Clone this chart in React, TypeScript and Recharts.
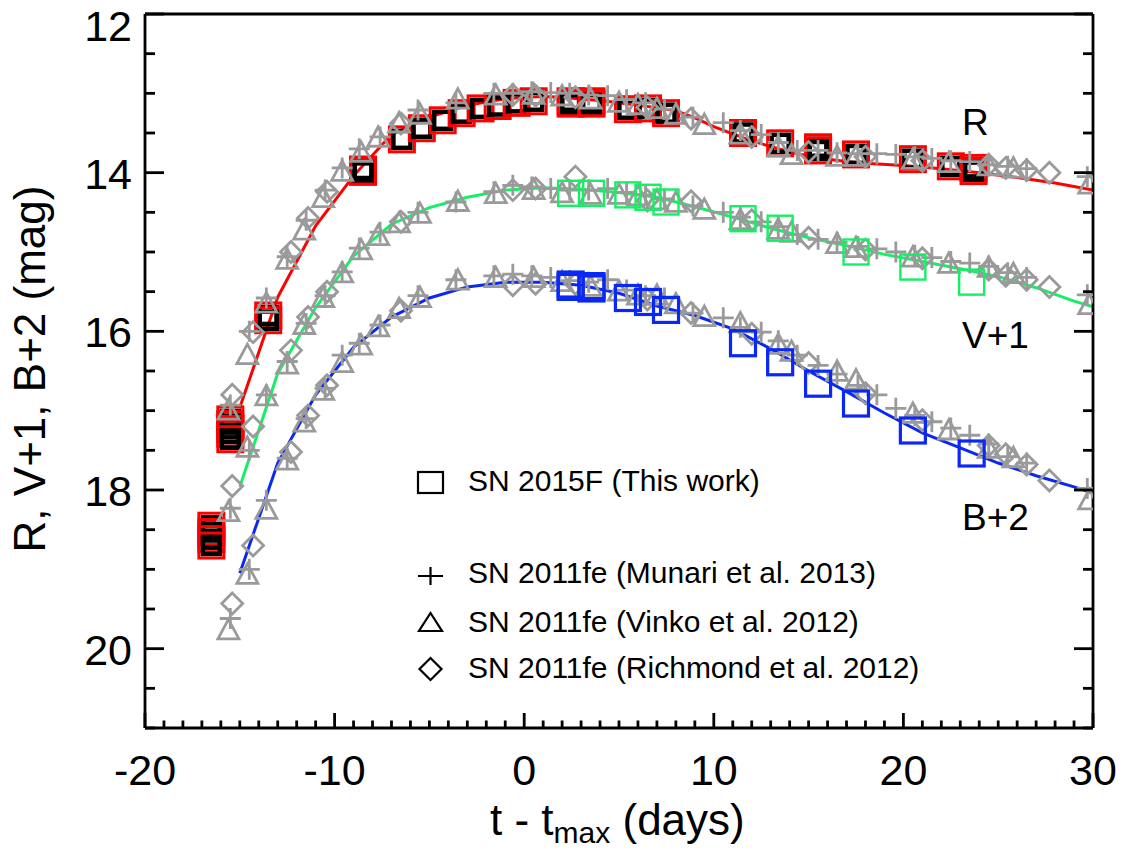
import React from 'react';
import { ComposedChart, Scatter, Line, XAxis, YAxis } from 'recharts';

const FONT = '"Liberation Sans", Arial, Helvetica, sans-serif';
const GRAY = '#9a9a9a';
const RED = '#ff0000';
const GREEN = '#14f064';
const BLUE = '#0a28f5';

// ---- SN 2015F (this work) ----
const sn15R_t = [-16.5, -16.5, -16.5, -16.5, -15.5, -15.5, -15.5, -15.5, -15.5, -13.5, -13.5, -8.5, -8.5, -6.45, -5.4, -4.3, -3.3, -2.3, -1.4, -0.4, 0.5, 2.45, 2.45, 3.55, 3.55, 5.47, 6.53, 7.48, 11.54, 13.5, 15.5, 15.5, 17.5, 20.5, 22.5, 23.7, 23.7];
const sn15R_m = [18.45, 18.53, 18.62, 18.7, 17.11, 17.17, 17.23, 17.29, 17.36, 15.8, 15.86, 13.96, 13.99, 13.58, 13.44, 13.34, 13.25, 13.19, 13.16, 13.12, 13.1, 13.1, 13.13, 13.1, 13.13, 13.2, 13.19, 13.25, 13.5, 13.63, 13.68, 13.72, 13.77, 13.83, 13.92, 13.94, 13.98];
const sn15V_t = [2.45, 3.55, 5.47, 6.53, 7.48, 11.54, 13.5, 17.5, 20.5, 23.6];
const sn15V_m = [14.26, 14.26, 14.28, 14.31, 14.37, 14.58, 14.7, 15.0, 15.19, 15.38];
const sn15B_t = [2.45, 2.45, 3.55, 3.55, 5.47, 6.53, 7.48, 11.54, 13.5, 15.5, 17.5, 20.5, 23.6];
const sn15B_m = [15.41, 15.44, 15.43, 15.46, 15.58, 15.63, 15.73, 16.15, 16.39, 16.66, 16.91, 17.25, 17.54];

// ---- template curves ----
const lineR_t = [-15, -13, -11, -9, -7, -5, -3, -1, 0, 1, 2, 3, 4, 5, 6, 7, 8, 9, 10, 11, 12, 13, 14, 15, 16, 17, 18, 20, 22, 24, 26, 28, 30];
const lineR_m = [16.96, 15.57, 14.67, 14.04, 13.52, 13.3, 13.15, 13.07, 13.05, 13.04, 13.05, 13.07, 13.09, 13.12, 13.15, 13.18, 13.22, 13.31, 13.42, 13.51, 13.6, 13.67, 13.74, 13.79, 13.83, 13.86, 13.88, 13.91, 13.95, 14.0, 14.06, 14.13, 14.22];
const lineVB_t = [-15, -13, -11, -9, -7, -5, -3, -1, 1, 3, 5, 7, 9, 11, 13, 15, 17, 19, 21, 23, 25, 27, 29, 30];
const lineV_m = [17.96, 16.53, 15.7, 15.05, 14.65, 14.44, 14.31, 14.22, 14.19, 14.21, 14.25, 14.31, 14.43, 14.56, 14.7, 14.82, 14.92, 15.03, 15.12, 15.21, 15.31, 15.45, 15.62, 15.69];
const lineB_m = [19.05, 17.66, 16.8, 16.2, 15.82, 15.58, 15.44, 15.38, 15.38, 15.42, 15.52, 15.68, 15.8, 15.97, 16.22, 16.5, 16.76, 17.03, 17.28, 17.47, 17.66, 17.82, 17.96, 18.04];

// ---- SN 2011fe, Munari et al. 2013 (plus) ----
const munari_t = [-15.5, -14.5, -13.6, -12.5, -11.5, -10.5, -9.6, -8.7, -7.6, -5.6, -3.6, -1.6, -0.6, 0.4, 1.4, 2.4, 3.4, 4.4, 5.4, 6.4, 7.4, 8.9, 10.5, 11.4, 12.5, 13.4, 14.4, 15.5, 16.5, 17.6, 18.6, 19.6, 20.6, 21.5, 22.5, 23.5, 24.5, 25.5, 26.5, 29.7];
const munari_R = [16.93, 16.0, 15.58, 15.06, 14.6, 14.22, 13.94, 13.7, 13.55, 13.21, 13.12, 13.0, 13.0, 12.98, 12.99, 13.0, 13.02, 13.03, 13.08, 13.12, 13.2, 13.3, 13.37, 13.47, 13.52, 13.62, 13.72, 13.72, 13.75, 13.76, 13.76, 13.77, 13.8, 13.82, 13.85, 13.86, 13.9, 13.92, 13.95, 14.05];
const munari_V = [18.23, 17.5, 16.8, 16.38, 15.9, 15.55, 15.25, 14.95, 14.75, 14.5, 14.37, 14.24, 14.16, 14.18, 14.2, 14.22, 14.22, 14.2, 14.25, 14.28, 14.33, 14.42, 14.5, 14.56, 14.62, 14.68, 14.78, 14.84, 14.88, 14.93, 14.96, 15.0, 15.04, 15.07, 15.12, 15.14, 15.18, 15.26, 15.32, 15.54];
const munari_B = [19.62, 19.0, 18.13, 17.6, 17.1, 16.72, 16.3, 16.15, 15.92, 15.55, 15.35, 15.3, 15.28, 15.3, 15.32, 15.36, 15.38, 15.35, 15.48, 15.55, 15.58, 15.77, 15.83, 15.95, 16.01, 16.12, 16.3, 16.43, 16.54, 16.68, 16.8, 16.97, 17.06, 17.14, 17.22, 17.31, 17.42, 17.58, 17.66, 17.98];

// ---- SN 2011fe, Vinko et al. 2012 (triangle) ----
const vinko_t = [-15.6, -14.6, -13.6, -12.5, -11.6, -10.6, -9.6, -8.6, -7.7, -6.6, -5.5, -3.5, -1.5, 0.5, 2.0, 3.5, 5.0, 6.0, 7.0, 8.0, 9.5, 11.4, 13.4, 14.1, 16.5, 17.5, 20.5, 22.4, 24.5, 25.8, 29.8];
const vinko_R = [17.0, 16.3, 15.65, 15.1, 14.73, 14.32, 13.99, 13.75, 13.56, 13.38, 13.27, 13.08, 13.03, 13.02, 13.04, 13.08, 13.12, 13.15, 13.2, 13.27, 13.4, 13.52, 13.68, 13.78, 13.8, 13.8, 13.84, 13.88, 13.92, 13.95, 14.15];
const vinko_V = [18.28, 17.47, 16.82, 16.42, 15.92, 15.58, 15.27, 14.98, 14.8, 14.64, 14.52, 14.37, 14.27, 14.22, 14.26, 14.28, 14.28, 14.3, 14.35, 14.38, 14.47, 14.6, 14.72, 14.76, 14.9, 14.95, 15.07, 15.15, 15.2, 15.28, 15.67];
const vinko_B = [19.77, 19.07, 18.25, 17.63, 17.15, 16.75, 16.4, 16.18, 15.95, 15.72, 15.58, 15.36, 15.33, 15.33, 15.38, 15.44, 15.5, 15.55, 15.55, 15.66, 15.82, 15.9, 16.17, 16.26, 16.51, 16.62, 17.04, 17.25, 17.48, 17.6, 18.13];

// ---- SN 2011fe, Richmond et al. 2012 (diamond) ----
const richmond_t = [-15.4, -14.3, -12.3, -11.4, -10.4, -6.5, -0.6, 0.6, 2.7, 6.5, 8.8, 12.0, 15.0, 18.0, 21.0, 24.5, 25.4, 26.5, 27.7];
const richmond_R = [16.8, 16.01, 15.0, 14.57, 14.24, 13.38, 13.02, 13.03, 13.05, 13.18, 13.32, 13.55, 13.74, 13.8, 13.85, 13.9, 13.94, 13.97, 14.0];
const richmond_V = [17.95, 17.2, 16.24, 15.82, 15.5, 14.62, 14.22, 14.2, 14.05, 14.35, 14.36, 14.6, 14.82, 14.97, 15.08, 15.22, 15.3, 15.35, 15.44];
const richmond_B = [19.43, 18.7, 17.52, 17.06, 16.68, 15.74, 15.42, 15.4, 15.4, 15.6, 15.77, 16.03, 16.4, 16.78, 17.12, 17.44, 17.55, 17.68, 17.88];

// ---- axes ----
const xMajorTicks = [-20, -10, 0, 10, 20, 30];
const yMajorTicks = [12, 14, 16, 18, 20];
const xTicks: number[] = [];
for (let v = -20; v <= 30; v += 1) xTicks.push(v);
const yTicks: number[] = [];
for (let v = 12; v <= 21; v += 0.5) yTicks.push(v);

const legendLabels = [
  'SN 2015F (This work)',
  'SN 2011fe (Munari et al. 2013)',
  'SN 2011fe (Vinko et al. 2012)',
  'SN 2011fe (Richmond et al. 2012)',
];

const zip = (t: number[], m: number[]) => t.map((x, i) => ({ x, y: m[i] }));

const TW = 2.8;
const LW = 3;

const BottomTick = (p: any) => {
  const { x, y, payload } = p;
  const v = payload.value;
  const major = xMajorTicks.includes(v);
  return (
    <g>
      <line x1={x} x2={x} y1={y} y2={y - (major ? 15 : 7.5)} stroke="#000" strokeWidth={TW} />
      {major && (
        <text x={x} y={y + 57} textAnchor="middle" fontSize={43} fontFamily={FONT} fill="#000">
          {v}
        </text>
      )}
    </g>
  );
};
const TopTick = (p: any) => {
  const { x, y, payload } = p;
  const major = xMajorTicks.includes(payload.value);
  return <line x1={x} x2={x} y1={y} y2={y + (major ? 14 : 7.5)} stroke="#000" strokeWidth={TW} />;
};
const LeftTick = (p: any) => {
  const { x, y, payload } = p;
  const v = payload.value;
  const major = yMajorTicks.includes(v);
  return (
    <g>
      <line x1={x} x2={x + (major ? 19 : 10)} y1={y} y2={y} stroke="#000" strokeWidth={TW} />
      {major && (
        <text x={x - 13} y={y + (v === 12 ? 27 : 16)} textAnchor="end" fontSize={43} fontFamily={FONT} fill="#000">
          {v}
        </text>
      )}
    </g>
  );
};
const RightTick = (p: any) => {
  const { x, y, payload } = p;
  const major = yMajorTicks.includes(payload.value);
  return <line x1={x} x2={x - (major ? 19 : 10)} y1={y} y2={y} stroke="#000" strokeWidth={TW} />;
};

const Plus = (p: any) => {
  const { cx, cy } = p;
  return <path d={`M${cx - 10.5},${cy}H${cx + 10.5}M${cx},${cy - 10.5}V${cy + 10.5}`} stroke={GRAY} strokeWidth={2.8} fill="none" />;
};
const Tri = (p: any) => {
  const { cx, cy } = p;
  return <polygon points={`${cx},${cy - 11} ${cx - 10.5},${cy + 8.5} ${cx + 10.5},${cy + 8.5}`} stroke={GRAY} strokeWidth={2.8} fill="none" />;
};
const Dia = (p: any) => {
  const { cx, cy } = p;
  return <polygon points={`${cx},${cy - 10.5} ${cx + 10.5},${cy} ${cx},${cy + 10.5} ${cx - 10.5},${cy}`} stroke={GRAY} strokeWidth={2.8} fill="none" />;
};
const RSquare = (p: any) => {
  const { cx, cy } = p;
  return (
    <g>
      <rect x={cx - 8.5} y={cy - 8.5} width={17} height={17} stroke="#000" strokeWidth={4.5} fill="none" />
      <rect x={cx - 12.5} y={cy - 12.5} width={25} height={25} stroke={RED} strokeWidth={3} fill="none" />
    </g>
  );
};
const VSquare = (p: any) => {
  const { cx, cy } = p;
  return <rect x={cx - 12.5} y={cy - 12.5} width={25} height={25} stroke={GREEN} strokeWidth={2.4} fill="none" />;
};
const BSquare = (p: any) => {
  const { cx, cy } = p;
  return <rect x={cx - 12.5} y={cy - 12.5} width={25} height={25} stroke={BLUE} strokeWidth={3.2} fill="none" />;
};

export default function App() {
  const legendY = [482, 576, 623, 669];
  const textY = [491, 583, 632, 678];
  return (
    <div style={{ position: 'absolute', left: 0, top: 0, width: 1127, height: 852, background: '#fff' }}>
      <ComposedChart width={1127} height={852} margin={{ top: 13, right: 33, bottom: 123, left: 144 }}>
        <XAxis
          xAxisId={0}
          dataKey="x"
          type="number"
          domain={[-20, 30]}
          allowDataOverflow
          ticks={xTicks}
          interval={0}
          height={1}
          tickSize={0}
          tickMargin={0}
          tickLine={false}
          axisLine={{ stroke: '#000', strokeWidth: TW }}
          tick={<BottomTick />}
        />
        <XAxis
          xAxisId="top"
          orientation="top"
          type="number"
          domain={[-20, 30]}
          allowDataOverflow
          ticks={xTicks}
          interval={0}
          height={1}
          tickSize={0}
          tickMargin={0}
          tickLine={false}
          axisLine={{ stroke: '#000', strokeWidth: TW }}
          tick={<TopTick />}
        />
        <YAxis
          yAxisId={0}
          dataKey="y"
          type="number"
          domain={[12, 21]}
          reversed
          allowDataOverflow
          ticks={yTicks}
          interval={0}
          width={1}
          tickSize={0}
          tickMargin={0}
          tickLine={false}
          axisLine={{ stroke: '#000', strokeWidth: TW }}
          tick={<LeftTick />}
        />
        <YAxis
          yAxisId="right"
          orientation="right"
          type="number"
          domain={[12, 21]}
          reversed
          allowDataOverflow
          ticks={yTicks}
          interval={0}
          width={1}
          tickSize={0}
          tickMargin={0}
          tickLine={false}
          axisLine={{ stroke: '#000', strokeWidth: TW }}
          tick={<RightTick />}
        />

        <Scatter data={zip(sn15R_t, sn15R_m)} shape={RSquare} isAnimationActive={false} />

        <Scatter data={zip(munari_t, munari_R)} shape={Plus} isAnimationActive={false} />
        <Scatter data={zip(munari_t, munari_V)} shape={Plus} isAnimationActive={false} />
        <Scatter data={zip(munari_t, munari_B)} shape={Plus} isAnimationActive={false} />
        <Scatter data={zip(vinko_t, vinko_R)} shape={Tri} isAnimationActive={false} />
        <Scatter data={zip(vinko_t, vinko_V)} shape={Tri} isAnimationActive={false} />
        <Scatter data={zip(vinko_t, vinko_B)} shape={Tri} isAnimationActive={false} />
        <Scatter data={zip(richmond_t, richmond_R)} shape={Dia} isAnimationActive={false} />
        <Scatter data={zip(richmond_t, richmond_V)} shape={Dia} isAnimationActive={false} />
        <Scatter data={zip(richmond_t, richmond_B)} shape={Dia} isAnimationActive={false} />

        <Line data={zip(lineR_t, lineR_m)} dataKey="y" type="linear" stroke={RED} strokeWidth={LW} dot={false} activeDot={false} isAnimationActive={false} />
        <Line data={zip(lineVB_t, lineV_m)} dataKey="y" type="linear" stroke={GREEN} strokeWidth={LW} dot={false} activeDot={false} isAnimationActive={false} />
        <Line data={zip(lineVB_t, lineB_m)} dataKey="y" type="linear" stroke={BLUE} strokeWidth={LW} dot={false} activeDot={false} isAnimationActive={false} />

        <Scatter data={zip(sn15V_t, sn15V_m)} shape={VSquare} isAnimationActive={false} />
        <Scatter data={zip(sn15B_t, sn15B_m)} shape={BSquare} isAnimationActive={false} />
      </ComposedChart>

      <svg width={1127} height={852} style={{ position: 'absolute', left: 0, top: 0, pointerEvents: 'none' }}>
        <text x={45} y={369} transform="rotate(-90 45 369)" textAnchor="middle" fontSize={44} fontFamily={FONT} fill="#000">
          R, V+1, B+2 (mag)
        </text>
        <text x={490} y={835} fontSize={44} fontFamily={FONT} fill="#000">
          t - t<tspan fontSize={30} dy={8}>max</tspan>
          <tspan fontSize={44} dy={-8}>{'\u00a0(days)'}</tspan>
        </text>

        <text x={962} y={135} fontSize={37} fontFamily={FONT} fill="#000">R</text>
        <text x={962} y={348} fontSize={37} fontFamily={FONT} fill="#000">V+1</text>
        <text x={962} y={530} fontSize={37} fontFamily={FONT} fill="#000">B+2</text>

        <rect x={418} y={legendY[0] - 10} width={25} height={21} stroke="#000" strokeWidth={2.2} fill="none" />
        <path d={`M418,${legendY[1]}H443M430.5,${legendY[1] - 9}V${legendY[1] + 9}`} stroke="#000" strokeWidth={2.2} fill="none" />
        <polygon points={`430.5,${legendY[2] - 10} 419,${legendY[2] + 8} 442,${legendY[2] + 8}`} stroke="#000" strokeWidth={2.2} fill="none" />
        <polygon points={`430.5,${legendY[3] - 11} 441.5,${legendY[3]} 430.5,${legendY[3] + 11} 419.5,${legendY[3]}`} stroke="#000" strokeWidth={2.2} fill="none" />
        {legendLabels.map((s, i) => (
          <text key={s} x={468} y={textY[i]} fontSize={30} fontFamily={FONT} fill="#000">
            {s}
          </text>
        ))}
      </svg>
    </div>
  );
}
